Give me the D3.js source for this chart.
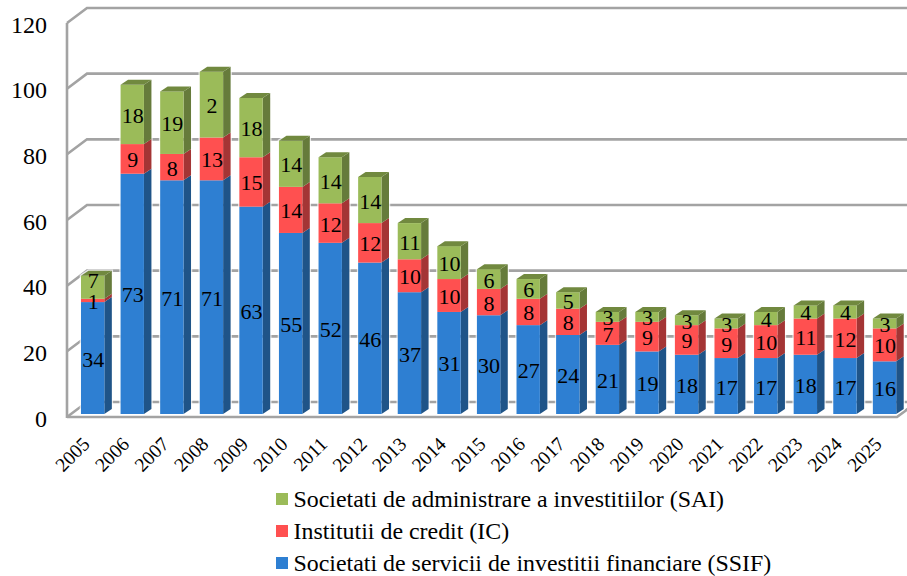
<!DOCTYPE html>
<html><head><meta charset="utf-8">
<script src="https://cdnjs.cloudflare.com/ajax/libs/d3/7.8.5/d3.min.js"></script>
<style>html,body{margin:0;padding:0;background:#fff}svg{display:block}text{font-family:"Liberation Serif",serif;fill:#000}</style>
</head><body><svg id="c" width="907" height="576"></svg>
<script>
const years=["2005","2006","2007","2008","2009","2010","2011","2012","2013","2014","2015","2016","2017","2018","2019","2020","2021","2022","2023","2024","2025"];
const ssif=[34,73,71,71,63,55,52,46,37,31,30,27,24,21,19,18,17,17,18,17,16];
const ic=[1,9,8,13,15,14,12,12,10,10,8,8,8,7,9,9,9,10,11,12,10];
const sai=[7,18,19,20,18,14,14,14,11,10,6,6,5,3,3,3,3,4,4,4,3];
const saiLabels=["7","18","19","2","18","14","14","14","11","10","6","6","5","3","3","3","3","4","4","4","3"];
const yTicks=[0,20,40,60,80,100,120];
const seriesNames=["Societati de administrare a investitiilor (SAI)","Institutii de credit (IC)","Societati de servicii de investitii financiare (SSIF)"];
const colors={ssif:["#2E7FD2","#1F5488","#23619F"],ic:["#FF5050","#A43535","#C03E3E"],sai:["#9BBB59","#667B3B","#71893F"]};

const svg=d3.select("#c");
const wallDx=20,wallDy=-15,barDx=7.5,barDy=-5;
const axisX=67,rightX=897;
const y=d3.scaleLinear().domain([0,120]).range([417,23]);
const yBar=d3.scaleLinear().domain([0,120]).range([414,19]);
const x=d3.scaleBand().domain(years).range([69.1,908.1]).paddingInner(0.41).paddingOuter(0.3);
const grid="#A3A3A3";

const g=svg.append("g").attr("stroke",grid).attr("stroke-width",2.6).attr("fill","none");
yTicks.forEach(t=>{
  const p=[[axisX,y(t)],[axisX+wallDx,y(t)+wallDy],[907,y(t)+wallDy]];
  g.append("path").attr("d",d3.line()(p));
});
g.append("line").attr("x1",axisX).attr("x2",axisX).attr("y1",y(120)).attr("y2",y(0)+1);
g.append("path").attr("d",d3.line()([[axisX,y(0)],[rightX,y(0)],[rightX+wallDx,y(0)+wallDy]]));

const tickG=svg.append("g");
yTicks.forEach(t=>tickG.append("text").attr("x",47).attr("y",y(t)+9.5).attr("text-anchor","end").attr("font-size",24).text(t));

const rows=years.map((yr,i)=>({yr,parts:[
  {k:"ssif",v:ssif[i],l:String(ssif[i])},
  {k:"ic",v:ic[i],l:String(ic[i])},
  {k:"sai",v:sai[i],l:saiLabels[i]}]}));
const bars=svg.append("g");
const labels=svg.append("g");
rows.forEach(r=>{
  let base=0,prev=Infinity;
  const x0=x(r.yr),w=x.bandwidth();
  const total=d3.sum(r.parts,p=>p.v),yTop=yBar(total),yBot=yBar(0);
  bars.append("path").attr("fill","none").attr("stroke","#fff").attr("stroke-opacity",0.75).attr("stroke-width",2.5)
    .attr("d",d3.line()([[x0,yBot],[x0+w,yBot],[x0+w+barDx,yBot+barDy],[x0+w+barDx,yTop+barDy],[x0+barDx,yTop+barDy],[x0,yTop]])+"Z");
  r.parts.forEach((p,pi)=>{
    const yb=yBar(base),yt=yBar(base+p.v),c=colors[p.k];
    bars.append("path").attr("fill",c[1]).attr("d",d3.line()([[x0+w,yb],[x0+w+barDx,yb+barDy],[x0+w+barDx,yt+barDy],[x0+w,yt]]));
    bars.append("rect").attr("x",x0).attr("y",yt).attr("width",w).attr("height",yb-yt).attr("fill",c[0]);
    if(pi===2) bars.append("path").attr("fill",c[2]).attr("d",d3.line()([[x0,yt],[x0+barDx,yt+barDy],[x0+w+barDx,yt+barDy],[x0+w,yt]]));
    const lift=prev<3?8:0;
    labels.append("text").attr("x",x0+w/2+0.5).attr("y",(yb+yt)/2+8.5-lift).attr("text-anchor","middle").attr("font-size",22).text(p.l);
    base+=p.v;prev=p.v;
  });
  svg.append("text").attr("transform",`translate(${x0+w/2-6},441) rotate(-45)`).attr("text-anchor","end").attr("dy",6).attr("font-size",19.5).text(r.yr);
});

const legY=d3.scalePoint().domain(seriesNames).range([499,563]);
const legCol=[colors.sai[0],colors.ic[0],colors.ssif[0]];
seriesNames.forEach((n,i)=>{
  svg.append("rect").attr("x",276).attr("y",legY(n)-6).attr("width",12).attr("height",12).attr("fill",legCol[i]);
  svg.append("text").attr("x",293.5).attr("y",legY(n)+8).attr("font-size",23.9).text(n);
});
</script></body></html>
